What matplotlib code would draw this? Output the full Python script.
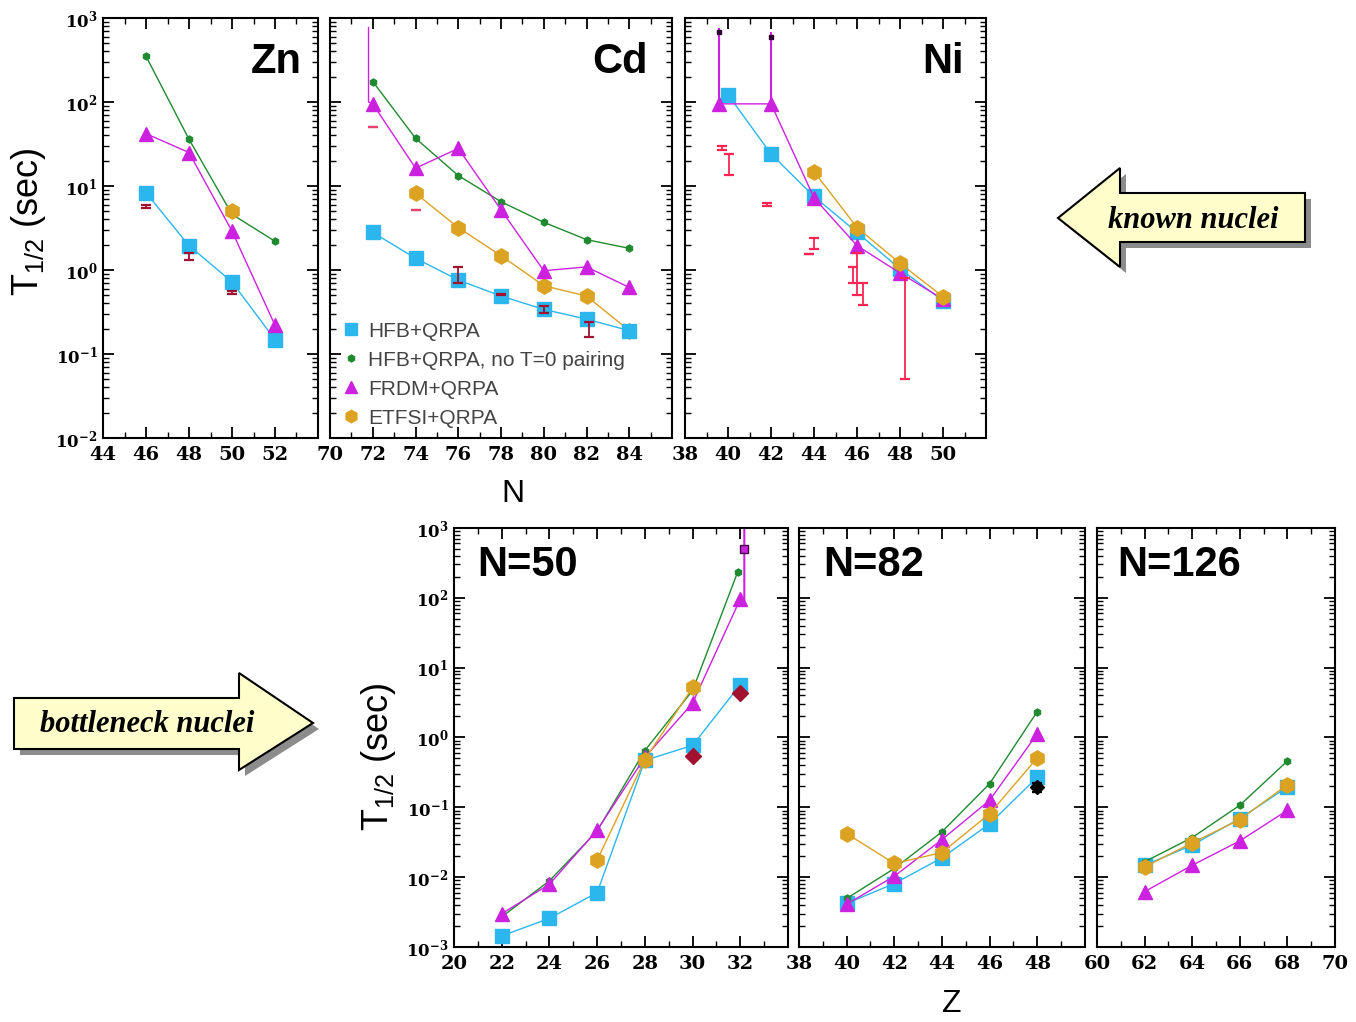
# beta-decay half-lives: known nuclei (top) and r-process bottleneck nuclei (bottom)
import numpy as np
import matplotlib.pyplot as plt
from matplotlib.ticker import MultipleLocator, LogLocator, FuncFormatter, NullFormatter
from matplotlib.patches import Polygon
from matplotlib.lines import Line2D

plt.rcParams['mathtext.fontset'] = 'custom'
plt.rcParams['mathtext.rm'] = 'Liberation Sans'
plt.rcParams['mathtext.it'] = 'Liberation Sans:italic'
plt.rcParams['mathtext.bf'] = 'DejaVu Serif:bold'

# ---- data (half-lives in seconds) ----
# Zn isotopes
zn_n = [46, 48, 50, 52]
zn_hfb = [8.3, 1.95, 0.72, 0.148]
zn_not0 = [350, 36, 4.6, 2.2]
zn_frdm = [42, 25, 2.9, 0.22]
zn_etfsi_n = [50]
zn_etfsi = [5.1]
zn_exp_n = [46, 48, 50]
zn_exp = [5.7, 1.48, 0.54]
zn_exp_lo = [5.4, 1.32, 0.52]
zn_exp_hi = [6.0, 1.59, 0.56]

# Cd isotopes
cd_n = [72, 74, 76, 78, 80, 82, 84]
cd_hfb = [2.8, 1.38, 0.76, 0.49, 0.34, 0.26, 0.19]
cd_not0 = [175, 37, 13.3, 6.5, 3.7, 2.3, 1.81]
cd_frdm = [95, 16.3, 28, 5.2, 0.98, 1.09, 0.62]
cd_etfsi_n = [74, 76, 78, 80, 82, 84]
cd_etfsi = [8.2, 3.2, 1.48, 0.65, 0.49, 0.19]
cd_frdm_spike_n = [71.8, 71.8, 72]
cd_frdm_spike = [770, 100, 95]
cd_lim_n = [72, 74]
cd_lim = [50, 5.2]
cd_exp_n = [76, 78, 80, 82.1]
cd_exp = [0.86, 0.51, 0.34, 0.2]
cd_exp_lo = [0.70, 0.50, 0.31, 0.16]
cd_exp_hi = [1.08, 0.52, 0.37, 0.243]

# Ni isotopes
ni_hfb_n = [40, 42, 44, 46, 48, 50]
ni_hfb = [122, 24, 7.5, 2.8, 1.03, 0.43]
ni_frdm_n = [39.6, 42, 44, 46, 48, 50]
ni_frdm = [95, 95, 7.2, 1.95, 0.92, 0.45]
ni_etfsi_n = [44, 46, 48, 50]
ni_etfsi = [14.8, 3.2, 1.2, 0.48]
ni_spike_n = [39.6, 42]
ni_spike_top = [770, 680]
ni_exp_n = [39.7, 40.03, 41.8, 43.75, 44.0, 45.8, 46.0, 46.27, 48.25]
ni_exp = [28.5, 18.8, 6.0, 1.55, 2.08, 0.87, 0.85, 0.54, 0.238]
ni_exp_lo = [27, 13.6, 5.8, 1.55, 1.78, 0.71, 0.51, 0.38, 0.05]
ni_exp_hi = [30, 24, 6.2, 1.55, 2.4, 1.08, 1.59, 0.70, 0.8]

# N=50 isotones
n50_z = [22, 24, 26, 28, 30, 32]
n50_hfb = [0.00144, 0.00257, 0.006, 0.47, 0.77, 5.7]
n50_not0_z = [22, 24, 26, 28, 30, 31.9]
n50_not0 = [0.0027, 0.00885, 0.0458, 0.65, 4.7, 238]
n50_frdm = [0.003, 0.0079, 0.047, 0.52, 3.1, 96]
n50_spike_z = [32, 32.17, 32.17]
n50_spike = [96, 85, 1500]
n50_spike_mark_z = [32.17]
n50_spike_mark = [500]
n50_etfsi_z = [26, 28, 30]
n50_etfsi = [0.0175, 0.48, 5.2]
n50_exp_z = [30, 32]
n50_exp = [0.54, 4.4]

# N=82 isotones
n82_z = [40, 42, 44, 46, 48]
n82_hfb = [0.0042, 0.0081, 0.0189, 0.058, 0.27]
n82_not0 = [0.00495, 0.0133, 0.0445, 0.218, 2.35]
n82_frdm = [0.0041, 0.0103, 0.0345, 0.126, 1.13]
n82_etfsi = [0.042, 0.0157, 0.0225, 0.081, 0.51]
n82_exp_z = [48]
n82_exp = [0.195]
n82_exp_lo = [0.165]
n82_exp_hi = [0.22]

# N=126 isotones
n126_z = [62, 64, 66, 68]
n126_hfb = [0.0148, 0.0287, 0.069, 0.195]
n126_not0 = [0.0166, 0.0369, 0.107, 0.46]
n126_frdm = [0.0062, 0.0148, 0.033, 0.0906]
n126_etfsi = [0.014, 0.031, 0.0667, 0.211]

labels = ['HFB+QRPA', 'HFB+QRPA, no T=0 pairing', 'FRDM+QRPA', 'ETFSI+QRPA']

# ---- styles ----
c_hfb = '#2cb6ee'
c_not0 = '#1f8a30'
c_frdm = '#cc22e0'
c_etfsi = '#dca222'
c_exp_dark = '#a0122f'
c_exp_red = '#ff2452'
c_exp_pink = '#e8406a'

st_hfb = dict(color=c_hfb, marker='s', ms=10, lw=1.0)
st_not0 = dict(color=c_not0, marker='h', ms=5, lw=1.0)
st_frdm = dict(color=c_frdm, marker='^', ms=10, lw=1.0)
st_etfsi = dict(color=c_etfsi, marker='h', ms=11, lw=1.0)


def errbar(ax, x, y, lo, hi, color):
    y = np.array(y)
    yerr = [y - np.array(lo), np.array(hi) - y]
    ax.errorbar(x, y, yerr=yerr, fmt='none', ecolor=color, elinewidth=1.3,
                capsize=3.5, capthick=1.6, zorder=5)


def style(ax, xlim, ylim, show_y, hide_last):
    ax.set_yscale('log')
    ax.set_xlim(*xlim)
    ax.set_ylim(*ylim)
    ticks = np.arange(xlim[0], xlim[1] + 1, 2)
    tlabels = [str(t) for t in ticks]
    if hide_last:
        tlabels[-1] = ''
    ax.set_xticks(ticks, tlabels, fontfamily='DejaVu Serif', fontweight='bold', fontsize=14)
    ax.xaxis.set_minor_locator(MultipleLocator(1))
    ax.yaxis.set_major_locator(LogLocator(base=10, numticks=20))
    ax.yaxis.set_minor_locator(LogLocator(base=10, subs=np.arange(2, 10), numticks=20))
    ax.yaxis.set_minor_formatter(NullFormatter())
    if show_y:
        ax.yaxis.set_major_formatter(FuncFormatter(
            lambda v, p: r'$\mathbf{10}^{\mathbf{%d}}$' % round(np.log10(v))))
    else:
        ax.yaxis.set_major_formatter(NullFormatter())
    ax.tick_params(which='both', direction='in', top=True, right=True)
    ax.tick_params(which='major', length=8, width=1.3, pad=6)
    ax.tick_params(axis='y', which='major', labelsize=12, pad=4)
    ax.tick_params(which='minor', length=4, width=1.0)
    for s in ax.spines.values():
        s.set_linewidth(1.5)


fig = plt.figure(figsize=(13.56, 10.22), dpi=100)

# overlay for the arrows (pixel coordinates)
ov = fig.add_axes([0, 0, 1, 1], zorder=-1)
ov.set_xlim(0, 1356)
ov.set_ylim(1022, 0)
ov.axis('off')

known = [(1058, 218), (1120, 168), (1120, 193), (1305, 193), (1305, 242), (1120, 242), (1120, 267)]
bottle = [(14, 698), (239, 698), (239, 673), (313, 723), (239, 770), (239, 749), (14, 749)]
for pts in (known, bottle):
    ov.add_patch(Polygon([(x + 6, y + 6) for x, y in pts], closed=True, fc='#8c8c8c', ec='none'))
    ov.add_patch(Polygon(pts, closed=True, fc='#ffffcc', ec='black', lw=1.5))
ov.text(1193, 220, 'known nuclei', fontfamily='Liberation Serif', style='italic',
        fontweight='bold', fontsize=22, ha='center', va='center')
ov.text(147, 724, 'bottleneck nuclei', fontfamily='Liberation Serif', style='italic',
        fontweight='bold', fontsize=22, ha='center', va='center')

# ---- top row ----
ax_zn = fig.add_axes([0.076, 0.5714, 0.1585, 0.411])
ax_cd = fig.add_axes([0.2434, 0.5714, 0.2522, 0.411])
ax_ni = fig.add_axes([0.5052, 0.5714, 0.222, 0.411])

ax_zn.plot(zn_n, zn_hfb, **st_hfb)
ax_zn.plot(zn_n, zn_not0, **st_not0)
ax_zn.plot(zn_n, zn_frdm, **st_frdm)
ax_zn.plot(zn_etfsi_n, zn_etfsi, **st_etfsi)
errbar(ax_zn, zn_exp_n, zn_exp, zn_exp_lo, zn_exp_hi, c_exp_dark)

ax_cd.plot(cd_frdm_spike_n, cd_frdm_spike, color=c_frdm, lw=1.0)
ax_cd.plot(cd_etfsi_n, cd_etfsi, **st_etfsi)
ax_cd.plot(cd_n, cd_hfb, **st_hfb)
ax_cd.plot(cd_n, cd_not0, **st_not0)
ax_cd.plot(cd_n, cd_frdm, **st_frdm)
errbar(ax_cd, cd_lim_n, cd_lim, cd_lim, cd_lim, c_exp_pink)
errbar(ax_cd, cd_exp_n, cd_exp, cd_exp_lo, cd_exp_hi, c_exp_dark)

ax_ni.vlines(ni_spike_n, ni_frdm[:2], ni_spike_top, color=c_frdm, lw=1.5)
ax_ni.plot(ni_spike_n, [v * 0.88 for v in ni_spike_top], ls='none', marker='s', ms=3, color='#300030')
ax_ni.plot(ni_hfb_n, ni_hfb, **st_hfb)
ax_ni.plot(ni_frdm_n, ni_frdm, **st_frdm)
ax_ni.plot(ni_etfsi_n, ni_etfsi, **st_etfsi)
errbar(ax_ni, ni_exp_n, ni_exp, ni_exp_lo, ni_exp_hi, c_exp_red)

style(ax_zn, (44, 54), (1e-2, 1e3), True, True)
style(ax_cd, (70, 86), (1e-2, 1e3), False, True)
style(ax_ni, (38, 52), (1e-2, 1e3), False, True)

title_kw = dict(fontfamily='Liberation Sans', fontweight='bold', fontsize=30, va='center')
ax_zn.text(0.925, 0.895, 'Zn', transform=ax_zn.transAxes, ha='right', **title_kw)
ax_cd.text(0.93, 0.895, 'Cd', transform=ax_cd.transAxes, ha='right', **title_kw)
ax_ni.text(0.925, 0.895, 'Ni', transform=ax_ni.transAxes, ha='right', **title_kw)

handles = [Line2D([], [], ls='none', **{k: v for k, v in s.items() if k != 'lw'})
           for s in (st_hfb, st_not0, st_frdm, st_etfsi)]
handles[0].set_markersize(9)
handles[2].set_markersize(9)
handles[3].set_markersize(9)
leg = ax_cd.legend(handles, labels, loc='lower left', bbox_to_anchor=(-0.005, -0.01),
                   frameon=False, handlelength=0.8, handletextpad=0.4, labelspacing=0.48,
                   prop=dict(family='Liberation Sans', size=15), borderaxespad=0.3)
for t in leg.get_texts():
    t.set_color('#444444')

# ---- bottom row ----
ax_50 = fig.add_axes([0.3348, 0.0734, 0.2463, 0.41])
ax_82 = fig.add_axes([0.5892, 0.0734, 0.2109, 0.41])
ax_126 = fig.add_axes([0.809, 0.0734, 0.1755, 0.41])

ax_50.plot(n50_spike_z, n50_spike, color=c_frdm, lw=1.5)
ax_50.plot(n50_spike_mark_z, n50_spike_mark, ls='none', marker='s', ms=6,
           color=c_frdm, mec='#400040')
ax_50.plot(n50_z, n50_hfb, **st_hfb)
ax_50.plot(n50_not0_z, n50_not0, **st_not0)
ax_50.plot(n50_z, n50_frdm, **st_frdm)
ax_50.plot(n50_etfsi_z, n50_etfsi, **st_etfsi)
ax_50.plot(n50_exp_z, n50_exp, ls='none', marker='D', ms=8, color=c_exp_dark)

ax_82.plot(n82_z, n82_hfb, **st_hfb)
ax_82.plot(n82_z, n82_not0, **st_not0)
ax_82.plot(n82_z, n82_frdm, **st_frdm)
ax_82.plot(n82_z, n82_etfsi, **st_etfsi)
errbar(ax_82, n82_exp_z, n82_exp, n82_exp_lo, n82_exp_hi, 'black')
ax_82.plot(n82_exp_z, n82_exp, ls='none', marker='D', ms=7, color='black')

ax_126.plot(n126_z, n126_hfb, **st_hfb)
ax_126.plot(n126_z, n126_not0, **st_not0)
ax_126.plot(n126_z, n126_frdm, **st_frdm)
ax_126.plot(n126_z, n126_etfsi, **st_etfsi)

style(ax_50, (20, 34), (1e-3, 1e3), True, True)
style(ax_82, (38, 50), (1e-3, 1e3), False, True)
style(ax_126, (60, 70), (1e-3, 1e3), False, False)

ax_50.text(0.069, 0.912, 'N=50', transform=ax_50.transAxes, ha='left', **title_kw)
ax_82.text(0.084, 0.912, 'N=82', transform=ax_82.transAxes, ha='left', **title_kw)
ax_126.text(0.084, 0.912, 'N=126', transform=ax_126.transAxes, ha='left', **title_kw)

# axis titles
ylab_kw = dict(fontfamily='Liberation Sans', fontsize=26, rotation=90, ha='center', va='center')
fig.text(28 / 1356, 1 - 222 / 1022, r'T$_{1/2}$ (sec)', **ylab_kw)
fig.text(378 / 1356, 1 - 757 / 1022, r'T$_{1/2}$ (sec)', **ylab_kw)
fig.text(513 / 1356, 1 - 494 / 1022, 'N', fontfamily='Liberation Sans', fontsize=23,
         ha='center', va='center')
fig.text(952 / 1356, 1 - 1004 / 1022, 'Z', fontfamily='Liberation Sans', fontsize=23,
         ha='center', va='center')

plt.savefig('out.png', dpi=100)
